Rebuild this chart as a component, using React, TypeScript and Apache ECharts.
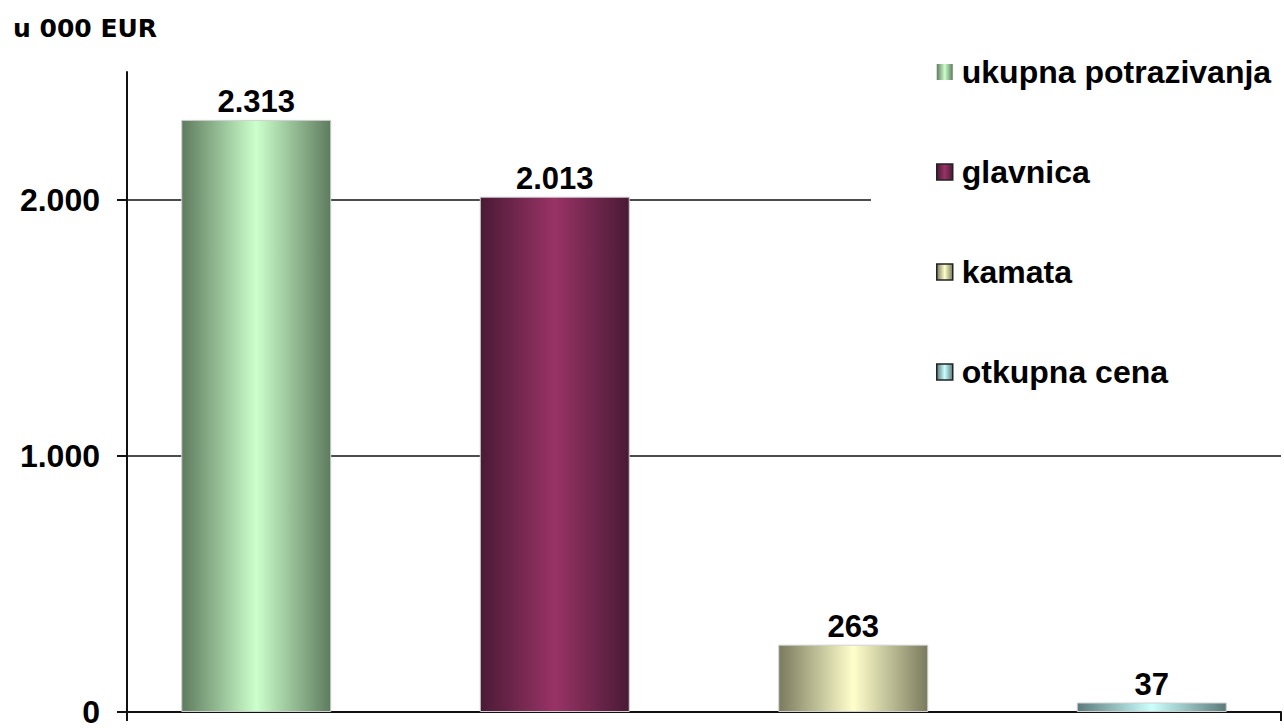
import React, { useEffect, useRef } from "react";
import * as echarts from "echarts";

const categories = [""];
const seriesNames = ["ukupna potrazivanja", "glavnica", "kamata", "otkupna cena"];
const seriesValues = [2313, 2013, 263, 37];
const yTicks = [0, 1000, 2000];
const yMax = 2500;
const unitLabel = "u 000 EUR";
const edgeColors = ["#5e7b5e", "#4a1a35", "#7a7a5e", "#5a7a7a"];
const centerColors = ["#ccffcc", "#993366", "#ffffcc", "#ccffff"];

const FONT = "'Liberation Sans', Arial, sans-serif";

function fmt(v: number): string {
  return String(Math.round(v)).replace(/\B(?=(\d{3})+(?!\d))/g, ".");
}

function grad(i: number) {
  return new echarts.graphic.LinearGradient(0, 0, 1, 0, [
    { offset: 0, color: edgeColors[i] },
    { offset: 0.5, color: centerColors[i] },
    { offset: 1, color: edgeColors[i] },
  ]);
}

export default function App() {
  const ref = useRef<HTMLDivElement>(null);
  useEffect(() => {
    if (!ref.current) return;
    const chart = echarts.init(ref.current, null, { renderer: "svg" });
    const option: any = {
      animation: false,
      backgroundColor: "#fff",
      title: {
        text: unitLabel,
        left: 13,
        top: 16,
        padding: 0,
        textStyle: { fontFamily: "'DejaVu Sans', sans-serif", fontWeight: "bold", fontSize: 25, color: "#000" },
      },
      grid: { left: 127, right: 3, top: 72, bottom: 13, containLabel: false },
      legend: {
        orient: "vertical",
        left: 871,
        top: 51,
        padding: [5, 40, 5, 65],
        backgroundColor: "#fff",
        icon: "rect",
        itemWidth: 16,
        itemHeight: 16,
        itemGap: 68,
        textStyle: {
          fontFamily: FONT,
          fontWeight: "bold",
          fontSize: 32,
          color: "#000",
          lineHeight: 30,
          padding: [0, 0, 0, 4],
        },
        data: seriesNames.map((n, i) => ({
          name: n,
          itemStyle: i === 0 ? { borderWidth: 0 } : { borderColor: "#222", borderWidth: 1.5 },
        })),
      },
      xAxis: {
        type: "category",
        data: categories,
        boundaryGap: true,
        axisLine: { lineStyle: { color: "#111", width: 2 } },
        axisTick: { show: true, length: 9, lineStyle: { color: "#111", width: 2 } },
        axisLabel: { show: false },
      },
      yAxis: {
        type: "value",
        min: 0,
        max: yMax,
        interval: 1000,
        axisLine: { show: true, lineStyle: { color: "#111", width: 2 } },
        axisTick: { show: true, length: 10, customValues: yTicks, lineStyle: { color: "#111", width: 2 } },
        axisLabel: {
          customValues: yTicks,
          margin: 27,
          formatter: (v: number) => fmt(v),
          fontFamily: FONT,
          fontWeight: "bold",
          fontSize: 32,
          lineHeight: 24,
          color: "#000",
        },
        splitLine: { show: true, lineStyle: { color: "#111", width: 1.5 } },
      },
      series: seriesNames.map((n, i) => ({
        name: n,
        type: "bar",
        barWidth: 150,
        barGap: "99%",
        data: [seriesValues[i]],
        itemStyle: { color: grad(i), borderColor: "#d0d0d0", borderWidth: 1 },
        label: {
          show: true,
          position: "top",
          distance: 3,
          formatter: (p: any) => fmt(p.value),
          fontFamily: FONT,
          fontWeight: "bold",
          fontSize: 31,
          color: "#000",
        },
      })),
    };
    chart.setOption(option);
    return () => chart.dispose();
  }, []);
  return (
    <div
      ref={ref}
      style={{ position: "fixed", left: 0, top: 0, width: 1284, height: 728 }}
    />
  );
}
